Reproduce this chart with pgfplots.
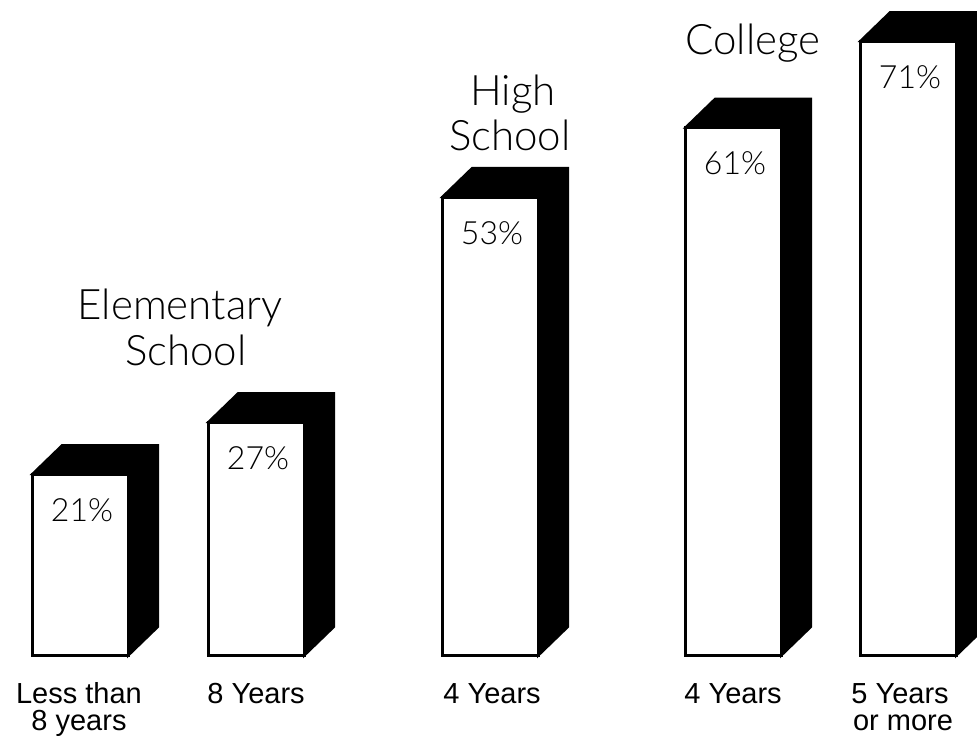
\documentclass[border=0pt]{standalone}
\usepackage{fontspec}
\setmainfont{Liberation Sans}
\IfFontExistsTF{Lato Light}{\newfontfamily\lightfont{Lato Light}}{\newfontfamily\lightfont{Liberation Sans}}
\usepackage{pgfplots}
\pgfplotsset{compat=1.18}
\begin{document}
\begin{tikzpicture}
\begin{axis}[name=ax, scale only axis, width=488.5pt, height=369pt,
  xmin=0, xmax=977, ymin=-9.47, ymax=75.75, hide axis, clip=true,
  /pgf/number format/assume math mode=true]
% dark depth (top and right side) of each bar
\addplot[fill=black, draw=black, line width=1pt, mark=none] coordinates {(32,21) (62,24.35) (158,24.35) (158,3.35) (128,0) (128,21)} -- cycle;
\addplot[fill=black, draw=black, line width=1pt, mark=none] coordinates {(208,27) (238,30.35) (334,30.35) (334,3.35) (304,0) (304,27)} -- cycle;
\addplot[fill=black, draw=black, line width=1pt, mark=none] coordinates {(442,53) (472,56.35) (568,56.35) (568,3.35) (538,0) (538,53)} -- cycle;
\addplot[fill=black, draw=black, line width=1pt, mark=none] coordinates {(685,61) (715,64.35) (811,64.35) (811,3.35) (781,0) (781,61)} -- cycle;
\addplot[fill=black, draw=black, line width=1pt, mark=none] coordinates {(860,71) (890,74.35) (986,74.35) (986,3.35) (956,0) (956,71)} -- cycle;
% front faces
\addplot[ybar, bar width=96, bar shift=0pt, fill=white, draw=black, line width=1.5pt,
  nodes near coords={\pgfmathprintnumber{\pgfplotspointmeta}\%},
  every node near coord/.append style={anchor=base, yshift=-23.5pt, xshift=1pt, font=\lightfont\fontsize{16}{18}\selectfont, text=black}]
  coordinates {(80,21) (256,27) (490,53) (733,61) (908,71)};
% group titles
\node[anchor=base, font=\lightfont\fontsize{21}{22}\selectfont] at (axis cs:180,38.8) {Elementary};
\node[anchor=base, font=\lightfont\fontsize{21}{22}\selectfont] at (axis cs:186,33.6) {School};
\node[anchor=base, font=\lightfont\fontsize{21}{22}\selectfont] at (axis cs:513,63.6) {High};
\node[anchor=base, font=\lightfont\fontsize{21}{22}\selectfont] at (axis cs:510,58.4) {School};
\node[anchor=base, font=\lightfont\fontsize{21}{22}\selectfont] at (axis cs:753,69.4) {College};
% category labels
\node[anchor=base, font=\fontsize{14.5}{16}\selectfont] at (axis cs:79,-5.43) {Less than};
\node[anchor=base, font=\fontsize{14.5}{16}\selectfont] at (axis cs:79,-8.55) {8 years};
\node[anchor=base, font=\fontsize{14.5}{16}\selectfont] at (axis cs:256,-5.43) {8 Years};
\node[anchor=base, font=\fontsize{14.5}{16}\selectfont] at (axis cs:492,-5.43) {4 Years};
\node[anchor=base, font=\fontsize{14.5}{16}\selectfont] at (axis cs:733,-5.43) {4 Years};
\node[anchor=base, font=\fontsize{14.5}{16}\selectfont] at (axis cs:900,-5.43) {5 Years};
\node[anchor=base, font=\fontsize{14.5}{16}\selectfont] at (axis cs:903,-8.55) {or more};
\end{axis}
\pgfresetboundingbox
\path (ax.south west) rectangle (ax.north east);
\end{tikzpicture}
\end{document}
